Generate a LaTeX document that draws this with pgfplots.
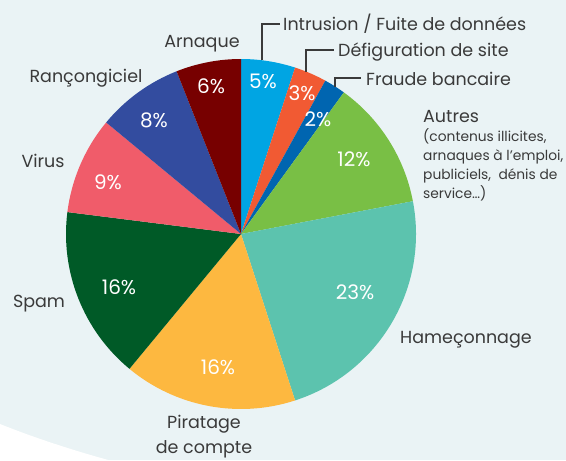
\documentclass[border=0pt]{standalone}
\usepackage{pgfplots}
\usepackage{pgfplotstable}
\pgfplotsset{compat=1.18}
\usepackage{fontspec}
\setmainfont{Poppins}

\definecolor{bg}{HTML}{EAF3F5}
\definecolor{txt}{HTML}{3A3A3A}
\definecolor{cIntr}{HTML}{00A5E3}
\definecolor{cDefig}{HTML}{F15A33}
\definecolor{cFraude}{HTML}{0065B0}
\definecolor{cAutres}{HTML}{79BF45}
\definecolor{cHame}{HTML}{5CC3AE}
\definecolor{cPir}{HTML}{FDB840}
\definecolor{cSpam}{HTML}{005A27}
\definecolor{cVirus}{HTML}{F05C6A}
\definecolor{cRancon}{HTML}{334C9F}
\definecolor{cArn}{HTML}{770000}

% share (%) of each category, clockwise from 12 o'clock; lx,ly = position of the percentage label
\pgfplotstableread[col sep=comma]{
name,value,col,lx,ly
Intrusion,5,cIntr,263,81
Defiguration,3,cDefig,302,93
Fraude,2,cFraude,318,119
Autres,12,cAutres,354,159
Hameconnage,23,cHame,355,292
Piratage,16,cPir,218,367
Spam,16,cSpam,119,287
Virus,9,cVirus,108,182
Rancongiciel,8,cRancon,154,120
Arnaque,6,cArn,211,86
}\piedata

\begin{document}
\begin{tikzpicture}
\begin{axis}[
  scale only axis, width=566pt, height=460pt,
  xmin=0, xmax=566, ymin=0, ymax=460, y dir=reverse,
  hide axis, clip=false,
]
\fill[bg] (axis cs:0,0) rectangle (axis cs:566,460);
\fill[white] (axis cs:0,424) .. controls (axis cs:35,438) and (axis cs:75,451) .. (axis cs:112,461) -- (axis cs:0,461) -- cycle;

\pgfplotstablegetrowsof{\piedata}
\pgfmathtruncatemacro{\lastrow}{\pgfplotsretval-1}
\gdef\startang{90}
\pgfplotsforeachungrouped \i in {0,...,\lastrow}{%
  \pgfplotstablegetelem{\i}{value}\of\piedata
  \let\val\pgfplotsretval
  \pgfplotstablegetelem{\i}{col}\of\piedata
  \let\colname\pgfplotsretval
  \pgfmathsetmacro{\endang}{\startang-3.6*\val}
  \edef\mywedge{\noexpand\fill[\colname] (axis cs:241,234) -- ++(\startang:175pt) arc[start angle=\startang, end angle=\endang, radius=175pt] -- cycle;}
  \mywedge
  \global\let\startang\endang
}
\pgfplotsforeachungrouped \i in {0,...,\lastrow}{%
  \pgfplotstablegetelem{\i}{value}\of\piedata
  \let\val\pgfplotsretval
  \pgfplotstablegetelem{\i}{lx}\of\piedata
  \let\lx\pgfplotsretval
  \pgfplotstablegetelem{\i}{ly}\of\piedata
  \let\ly\pgfplotsretval
  \edef\mylabel{\noexpand\node[white, font=\noexpand\fontsize{20}{22}\noexpand\selectfont, inner sep=0pt] at (axis cs:\lx,\ly) {\val\noexpand\%};}
  \mylabel
}

% leader lines
\draw[txt, line width=1.1pt] (axis cs:262,60) -- (axis cs:262,24) -- (axis cs:280,24);
\draw[txt, line width=1.1pt] (axis cs:306,72) -- (axis cs:306,50) -- (axis cs:334,50);
\draw[txt, line width=1.1pt] (axis cs:335,87) -- (axis cs:335,78) -- (axis cs:361,78);

\tikzset{lab/.style={txt, font=\fontsize{17.5}{20}\selectfont, inner sep=0pt},
         sub/.style={txt, font=\fontsize{13.8}{16}\selectfont, inner sep=0pt, anchor=base west}}
\node[lab, anchor=base west] at (axis cs:283,30) {Intrusion / Fuite de données};
\node[lab, anchor=base west] at (axis cs:338,56) {Défiguration de site};
\node[lab, anchor=base west] at (axis cs:366,85) {Fraude bancaire};
\node[lab, anchor=base west] at (axis cs:423,122) {Autres};
\node[sub] at (axis cs:423,141) {(contenus illicites,};
\node[sub] at (axis cs:423,160) {arnaques à l’emploi,};
\node[sub] at (axis cs:423,179) {publiciels,\ \ dénis de};
\node[sub] at (axis cs:423,198) {service…)};
\node[lab, anchor=base west] at (axis cs:400,343) {Hameçonnage};
\node[lab, anchor=base] at (axis cs:204,428) {Piratage};
\node[lab, anchor=base] at (axis cs:204,453) {de compte};
\node[lab, anchor=base] at (axis cs:39,307) {Spam};
\node[lab, anchor=base] at (axis cs:43,167) {Virus};
\node[lab, anchor=base] at (axis cs:86,82) {Rançongiciel};
\node[lab, anchor=base] at (axis cs:202,47) {Arnaque};
\end{axis}
\end{tikzpicture}
\end{document}
